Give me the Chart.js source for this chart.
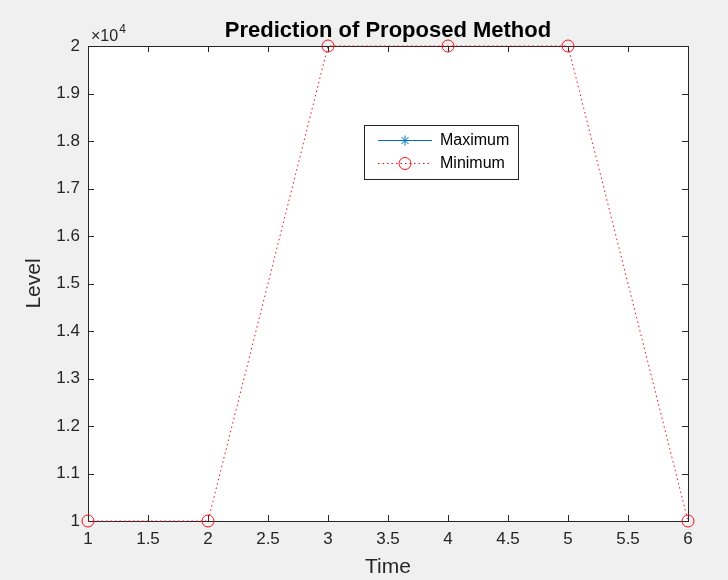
<!DOCTYPE html>
<html>
<head>
<meta charset="utf-8">
<script src="https://cdn.jsdelivr.net/npm/chart.js@4.4.1/dist/chart.umd.min.js"></script>
<style>
  html, body { margin: 0; padding: 0; background: #f0f0f0; }
  #wrap { width: 728px; height: 580px; }
</style>
</head>
<body>
<div id="wrap"><canvas id="chart" width="728" height="580"></canvas></div>
<script>
// data
const times = [1, 2, 3, 4, 5, 6];
const minimumLevels = [10000, 10000, 20000, 20000, 20000, 10000];
// the Maximum series does not show anywhere inside the axes, only in the legend
const maximumLevels = [null, null, null, null, null, null];
const xTicks = [1, 1.5, 2, 2.5, 3, 3.5, 4, 4.5, 5, 5.5, 6];
const yTicks = [10000, 11000, 12000, 13000, 14000, 15000, 16000, 17000, 18000, 19000, 20000];

const FONT = '"Liberation Sans", Arial, Helvetica, sans-serif';
const AXIS = '#262626';
const BLUE = '#0072bd';
const RED = '#f0101a';

const toPoints = (ys) => times.map((t, i) => ({ x: t, y: ys[i] }));

// MATLAB-like box: white axes area, frame with inward ticks on all sides
const matlabAxes = {
  id: 'matlabAxes',
  beforeDatasetsDraw(chart) {
    const { ctx, chartArea: a, scales } = chart;
    ctx.save();
    ctx.fillStyle = '#ffffff';
    ctx.fillRect(a.left, a.top, a.right - a.left, a.bottom - a.top);
    ctx.strokeStyle = AXIS;
    ctx.lineWidth = 1;
    ctx.strokeRect(a.left + 0.5, a.top + 0.5, a.right - a.left, a.bottom - a.top);
    const len = 6;
    ctx.beginPath();
    xTicks.forEach(v => {
      const px = Math.round(scales.x.getPixelForValue(v)) + 0.5;
      ctx.moveTo(px, a.bottom); ctx.lineTo(px, a.bottom - len);
      ctx.moveTo(px, a.top); ctx.lineTo(px, a.top + len);
    });
    yTicks.forEach(v => {
      const py = Math.round(scales.y.getPixelForValue(v)) + 0.5;
      ctx.moveTo(a.left, py); ctx.lineTo(a.left + len, py);
      ctx.moveTo(a.right, py); ctx.lineTo(a.right - len, py);
    });
    ctx.stroke();
    ctx.restore();
  },
  afterDraw(chart) {
    const { ctx, chartArea: a } = chart;
    ctx.save();
    // exponent label
    ctx.fillStyle = AXIS;
    ctx.textBaseline = 'alphabetic';
    ctx.font = '16px ' + FONT;
    ctx.fillText('\u00d710', a.left + 3, a.top - 5);
    const w = ctx.measureText('\u00d710').width;
    ctx.font = '12px ' + FONT;
    ctx.fillText('4', a.left + 3 + w + 1, a.top - 13);

    // legend box
    const bx = 364, by = 125, bw = 154, bh = 54;
    ctx.fillStyle = '#ffffff';
    ctx.fillRect(bx, by, bw, bh);
    ctx.strokeStyle = AXIS;
    ctx.lineWidth = 1;
    ctx.strokeRect(bx + 0.5, by + 0.5, bw, bh);
    const rows = [by + 15, by + 38];
    chart.data.datasets.forEach((ds, i) => {
      const y = rows[i];
      ctx.strokeStyle = ds.borderColor;
      ctx.lineWidth = ds.borderWidth;
      ctx.setLineDash(ds.borderDash || []);
      ctx.beginPath();
      ctx.moveTo(bx + 14, y + 0.5);
      ctx.lineTo(bx + 68, y + 0.5);
      ctx.stroke();
      ctx.setLineDash([]);
      ctx.fillStyle = 'rgba(0,0,0,0)';
      ctx.strokeStyle = ds.pointBorderColor;
      Chart.helpers.drawPoint(ctx, {
        pointStyle: ds.pointStyle,
        radius: ds.pointRadius,
        borderWidth: 1,
        rotation: 0
      }, bx + 41, y + 0.5);
      ctx.fillStyle = '#000000';
      ctx.font = '16px ' + FONT;
      ctx.textBaseline = 'middle';
      ctx.fillText(ds.label, bx + 76, y + 1);
    });
    ctx.restore();
  }
};

new Chart(document.getElementById('chart'), {
  type: 'line',
  data: {
    datasets: [
      {
        label: 'Maximum',
        data: toPoints(maximumLevels),
        borderColor: BLUE,
        backgroundColor: 'transparent',
        borderWidth: 1,
        pointStyle: 'star',
        pointRadius: 5,
        pointBorderColor: BLUE,
        clip: false
      },
      {
        label: 'Minimum',
        data: toPoints(minimumLevels),
        borderColor: RED,
        backgroundColor: 'transparent',
        borderWidth: 1,
        borderDash: [1.5, 3],
        pointStyle: 'circle',
        pointRadius: 6,
        pointBorderColor: RED,
        pointBackgroundColor: 'transparent',
        pointBorderWidth: 1,
        clip: false
      }
    ]
  },
  options: {
    responsive: false,
    animation: false,
    layout: { padding: { left: 0, right: 40, top: 0, bottom: 0 } },
    plugins: {
      legend: { display: false },
      tooltip: { enabled: false },
      title: {
        display: true,
        fullSize: false,
        text: 'Prediction of Proposed Method',
        color: '#000000',
        font: { family: FONT, size: 22, weight: 'bold' },
        padding: { top: 18, bottom: 1.6 }
      }
    },
    scales: {
      x: {
        type: 'linear',
        min: 1,
        max: 6,
        afterFit: (s) => { s.height = 59; },
        afterBuildTicks: (s) => { s.ticks = xTicks.map(v => ({ value: v })); },
        grid: { display: false, drawTicks: false },
        border: { display: false },
        ticks: {
          color: AXIS,
          padding: 8,
          maxRotation: 0,
          autoSkip: false,
          font: { family: FONT, size: 17 },
          callback: (v) => String(v)
        },
        title: {
          display: true,
          text: 'Time',
          color: AXIS,
          font: { family: FONT, size: 21 },
          padding: { top: 0, bottom: 0 }
        }
      },
      y: {
        min: 10000,
        max: 20000,
        afterFit: (s) => { s.width = 88; },
        afterBuildTicks: (s) => { s.ticks = yTicks.map(v => ({ value: v })); },
        grid: { display: false, drawTicks: false },
        border: { display: false },
        ticks: {
          color: AXIS,
          padding: 8,
          autoSkip: false,
          font: { family: FONT, size: 17 },
          callback: (v) => String(+(v / 10000).toFixed(1))
        },
        title: {
          display: true,
          text: 'Level',
          color: AXIS,
          font: { family: FONT, size: 21 },
          padding: { top: 22, bottom: 0 }
        }
      }
    }
  },
  plugins: [matlabAxes]
});
</script>
</body>
</html>
